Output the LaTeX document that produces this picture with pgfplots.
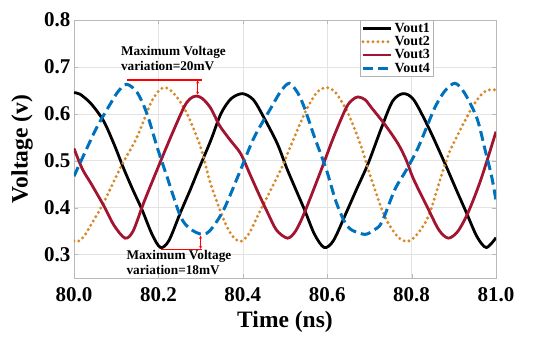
\documentclass[border=0pt]{standalone}
\usepackage{fontspec}
\setmainfont{Liberation Serif}
\usepackage{pgfplots}
\pgfplotsset{compat=1.18}
\usetikzlibrary{arrows.meta}

\definecolor{mblue}{RGB}{0,114,189}
\definecolor{morange}{RGB}{214,137,42}
\definecolor{mred}{RGB}{162,20,47}

\begin{document}
\begin{tikzpicture}
\useasboundingbox (-74pt,-65pt) rectangle (460pt,278pt);
\begin{axis}[
  scale only axis,
  width=422pt, height=258pt,
  xmin=80, xmax=81, ymin=0.25, ymax=0.8,
  xtick={80,80.2,80.4,80.6,80.8,81},
  ytick={0.3,0.4,0.5,0.6,0.7,0.8},
  /pgf/number format/assume math mode=true,
  /pgf/number format/fixed,
  /pgf/number format/fixed zerofill,
  /pgf/number format/precision=1,
  tick label style={font=\bfseries\fontsize{21}{21}\selectfont},
  xticklabel style={yshift=-6pt},
  grid=major,
  major grid style={gray!22, line width=0.5pt},
  axis line style={gray!55, line width=0.6pt},
  major tick style={gray!55},
  tick align=inside,
  major tick length=4pt,
  xlabel={Time (ns)},
  ylabel={Voltage (v)},
  every axis x label/.style={at={(axis description cs:0.5,-0.171)}, anchor=center,
    font=\bfseries\fontsize{23.5}{24}\selectfont},
  every axis y label/.style={at={(axis description cs:-0.123,0.5)}, anchor=center, rotate=90,
    font=\bfseries\fontsize{23.5}{24}\selectfont},
  legend style={at={(0.851,1)}, anchor=north east, draw=gray!60,
    font=\bfseries\fontsize{14}{15}\selectfont, inner sep=1pt,
    row sep=-1.5pt, fill=white},
  legend cell align=left,
  legend image code/.code={\draw[#1] (0pt,0pt) -- (28pt,0pt);},
  clip=true,
]
% Vout1
\addplot[black, line width=2.8pt, smooth] coordinates {
(80.000,0.645) (80.014,0.642) (80.040,0.622) (80.070,0.585) (80.095,0.535)
(80.117,0.485) (80.140,0.437) (80.161,0.396) (80.185,0.343) (80.205,0.315)
(80.225,0.330) (80.252,0.389) (80.275,0.437) (80.295,0.481) (80.324,0.543)
(80.348,0.600) (80.372,0.632) (80.399,0.643) (80.425,0.630) (80.450,0.592)
(80.482,0.536) (80.506,0.480) (80.546,0.396) (80.570,0.343) (80.593,0.315)
(80.615,0.330) (80.645,0.389) (80.670,0.440) (80.697,0.494) (80.729,0.571)
(80.755,0.627) (80.780,0.643) (80.805,0.630) (80.840,0.571) (80.879,0.494)
(80.905,0.440) (80.930,0.389) (80.955,0.338) (80.977,0.315) (81.000,0.336)
};
\addlegendentry{Vout1}
% Vout2
\addplot[morange, line width=3.3pt, line cap=round, dash pattern=on 0pt off 5pt, smooth] coordinates {
(80.000,0.329) (80.010,0.328) (80.025,0.340) (80.038,0.360) (80.070,0.410)
(80.110,0.485) (80.149,0.550) (80.181,0.621) (80.200,0.648) (80.217,0.656)
(80.240,0.640) (80.268,0.600) (80.300,0.529) (80.324,0.450) (80.355,0.374)
(80.375,0.340) (80.395,0.328) (80.415,0.345) (80.435,0.382) (80.490,0.481)
(80.506,0.515) (80.546,0.600) (80.575,0.645) (80.598,0.656) (80.620,0.645)
(80.650,0.600) (80.681,0.529) (80.705,0.460) (80.736,0.382) (80.765,0.340)
(80.788,0.328) (80.810,0.340) (80.840,0.382) (80.875,0.481) (80.895,0.529)
(80.943,0.613) (80.970,0.645) (80.990,0.652) (81.000,0.650)
};
\addlegendentry{Vout2}
% Vout3
\addplot[mred, line width=2.8pt, smooth] coordinates {
(80.000,0.526) (80.020,0.482) (80.040,0.452) (80.070,0.405) (80.095,0.362)
(80.121,0.335) (80.140,0.350) (80.165,0.410) (80.197,0.481) (80.229,0.550)
(80.260,0.613) (80.275,0.632) (80.290,0.638) (80.305,0.632) (80.324,0.612)
(80.345,0.575) (80.371,0.543) (80.395,0.515) (80.419,0.467) (80.440,0.425)
(80.459,0.389) (80.480,0.352) (80.506,0.335) (80.525,0.350) (80.546,0.389)
(80.586,0.481) (80.615,0.550) (80.645,0.613) (80.660,0.630) (80.673,0.636)
(80.690,0.630) (80.705,0.613) (80.736,0.578) (80.768,0.536) (80.788,0.500)
(80.804,0.462) (80.840,0.396) (80.865,0.352) (80.887,0.335) (80.910,0.350)
(80.935,0.392) (80.965,0.462) (81.000,0.562)
};
\addlegendentry{Vout3}
% Vout4
\addplot[mblue, line width=3pt, dash pattern=on 10pt off 5pt, smooth] coordinates {
(80.000,0.467) (80.022,0.510) (80.054,0.571) (80.086,0.621) (80.105,0.648)
(80.125,0.663) (80.150,0.645) (80.173,0.600) (80.197,0.529) (80.220,0.467)
(80.252,0.382) (80.275,0.355) (80.304,0.343) (80.324,0.353) (80.355,0.396)
(80.395,0.481) (80.427,0.550) (80.467,0.613) (80.490,0.648) (80.510,0.665)
(80.530,0.645) (80.546,0.613) (80.570,0.550) (80.598,0.481) (80.620,0.415)
(80.640,0.372) (80.657,0.353) (80.689,0.343) (80.710,0.352) (80.729,0.368)
(80.760,0.438) (80.788,0.481) (80.816,0.529) (80.855,0.613) (80.880,0.650)
(80.903,0.665) (80.925,0.645) (80.955,0.590) (80.975,0.520) (80.990,0.465)
(81.000,0.415)
};
\addlegendentry{Vout4}

% annotations
\draw[red, line width=1.6pt] (axis cs:80.125,0.672) -- (axis cs:80.304,0.672);
\draw[red, line width=0.8pt, {Stealth[length=3pt,width=3pt]}-{Stealth[length=3pt,width=3pt]}]
  (axis cs:80.293,0.671) -- (axis cs:80.293,0.641);
\node[anchor=west, align=left, inner sep=0pt, font=\bfseries\fontsize{13.3}{15}\selectfont]
  at (axis cs:80.111,0.717) {Maximum Voltage\\variation=20mV};

\draw[red, line width=1.6pt] (axis cs:80.205,0.311) -- (axis cs:80.304,0.311);
\draw[red, line width=0.8pt, {Stealth[length=3pt,width=3pt]}-{Stealth[length=3pt,width=3pt]}]
  (axis cs:80.300,0.312) -- (axis cs:80.300,0.340);
\node[anchor=west, align=left, inner sep=0pt, font=\bfseries\fontsize{13.3}{15}\selectfont]
  at (axis cs:80.124,0.283) {Maximum Voltage\\variation=18mV};
\end{axis}
\end{tikzpicture}
\end{document}
